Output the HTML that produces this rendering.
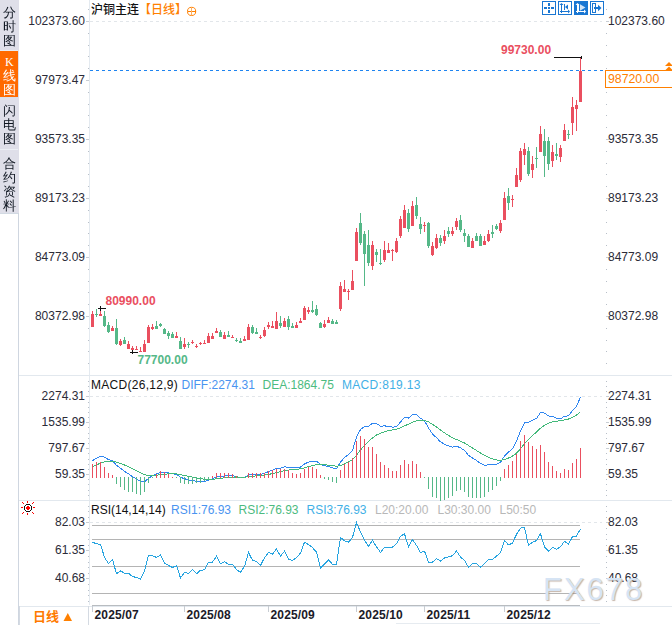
<!DOCTYPE html>
<html><head><meta charset="utf-8"><title>沪铜主连 日线</title><style>
*{margin:0;padding:0;box-sizing:border-box}
html,body{width:672px;height:625px;overflow:hidden;background:#fff}
body{position:relative;font-family:"Liberation Sans",Arial,sans-serif}
.t{position:absolute;white-space:nowrap;line-height:14px;font-size:12px;color:#2a2a35}
.num{font-size:12px;color:#2b2b38}
.tab{font-family:"Liberation Sans","WenQuanYi Zen Hei","Noto Sans CJK SC",sans-serif;font-size:13px;line-height:14px;color:#0e1520}
.tab.w{color:#fff}
.tabk{font-family:"Liberation Serif",serif;font-size:12px;color:#fff}
.cn{font-family:"Liberation Sans","Noto Sans CJK SC",sans-serif}
.hdr{font-size:12px;color:#111;line-height:16px;font-weight:500}
.leg{font-size:12px}
.date{font-size:12px;font-weight:bold;color:#1a1a28;letter-spacing:0.15px}
.bl{font-size:13px;font-weight:bold;color:#ff7a00;line-height:16px}
.wm{font-size:31px;letter-spacing:2px;color:#d6e4f4;line-height:36px;text-shadow:1px 1px 1px rgba(150,120,100,.55)}
</style></head>
<body>
<svg width="672" height="625" viewBox="0 0 672 625" style="position:absolute;left:0;top:0" shape-rendering="crispEdges"><rect x="0" y="0" width="19" height="213" fill="#dfdfe9"/><rect x="0" y="51" width="18" height="46" fill="#ff6a00"/><rect x="0" y="50" width="18" height="1" fill="#e8ecf4"/><rect x="0" y="149" width="18" height="1" fill="#eceff5"/><rect x="18" y="213" width="1" height="412" fill="#cfd6e0"/><rect x="0" y="213" width="18" height="1" fill="#d2dae3"/><rect x="89" y="0" width="1" height="605" fill="#e4eaf0"/><rect x="19" y="375" width="653" height="1" fill="#e2e8ee"/><rect x="19" y="500" width="653" height="1" fill="#e2e8ee"/><rect x="19" y="606" width="653" height="1" fill="#e2e8ee"/><rect x="19" y="606" width="1" height="19" fill="#d4dae2"/><rect x="88" y="606" width="1" height="19" fill="#d4dae2"/><rect x="396" y="623" width="204" height="1" fill="#e6ebf0"/><rect x="92" y="605" width="488" height="1" fill="#b8bcc0"/><rect x="86" y="21" width="3" height="1" fill="#c8cdd3"/><rect x="606" y="21" width="3" height="1" fill="#c8cdd3"/><rect x="86" y="80" width="3" height="1" fill="#c8cdd3"/><rect x="606" y="80" width="3" height="1" fill="#c8cdd3"/><rect x="86" y="139" width="3" height="1" fill="#c8cdd3"/><rect x="606" y="139" width="3" height="1" fill="#c8cdd3"/><rect x="86" y="198" width="3" height="1" fill="#c8cdd3"/><rect x="606" y="198" width="3" height="1" fill="#c8cdd3"/><rect x="86" y="257" width="3" height="1" fill="#c8cdd3"/><rect x="606" y="257" width="3" height="1" fill="#c8cdd3"/><rect x="86" y="316" width="3" height="1" fill="#c8cdd3"/><rect x="606" y="316" width="3" height="1" fill="#c8cdd3"/><rect x="88" y="33" width="1" height="1" fill="#b8bfc8"/><rect x="606" y="33" width="1" height="1" fill="#b8bfc8"/><rect x="88" y="45" width="1" height="1" fill="#b8bfc8"/><rect x="606" y="45" width="1" height="1" fill="#b8bfc8"/><rect x="88" y="56" width="1" height="1" fill="#b8bfc8"/><rect x="606" y="56" width="1" height="1" fill="#b8bfc8"/><rect x="88" y="68" width="1" height="1" fill="#b8bfc8"/><rect x="606" y="68" width="1" height="1" fill="#b8bfc8"/><rect x="88" y="92" width="1" height="1" fill="#b8bfc8"/><rect x="606" y="92" width="1" height="1" fill="#b8bfc8"/><rect x="88" y="104" width="1" height="1" fill="#b8bfc8"/><rect x="606" y="104" width="1" height="1" fill="#b8bfc8"/><rect x="88" y="115" width="1" height="1" fill="#b8bfc8"/><rect x="606" y="115" width="1" height="1" fill="#b8bfc8"/><rect x="88" y="127" width="1" height="1" fill="#b8bfc8"/><rect x="606" y="127" width="1" height="1" fill="#b8bfc8"/><rect x="88" y="151" width="1" height="1" fill="#b8bfc8"/><rect x="606" y="151" width="1" height="1" fill="#b8bfc8"/><rect x="88" y="163" width="1" height="1" fill="#b8bfc8"/><rect x="606" y="163" width="1" height="1" fill="#b8bfc8"/><rect x="88" y="174" width="1" height="1" fill="#b8bfc8"/><rect x="606" y="174" width="1" height="1" fill="#b8bfc8"/><rect x="88" y="186" width="1" height="1" fill="#b8bfc8"/><rect x="606" y="186" width="1" height="1" fill="#b8bfc8"/><rect x="88" y="210" width="1" height="1" fill="#b8bfc8"/><rect x="606" y="210" width="1" height="1" fill="#b8bfc8"/><rect x="88" y="222" width="1" height="1" fill="#b8bfc8"/><rect x="606" y="222" width="1" height="1" fill="#b8bfc8"/><rect x="88" y="233" width="1" height="1" fill="#b8bfc8"/><rect x="606" y="233" width="1" height="1" fill="#b8bfc8"/><rect x="88" y="245" width="1" height="1" fill="#b8bfc8"/><rect x="606" y="245" width="1" height="1" fill="#b8bfc8"/><rect x="88" y="269" width="1" height="1" fill="#b8bfc8"/><rect x="606" y="269" width="1" height="1" fill="#b8bfc8"/><rect x="88" y="281" width="1" height="1" fill="#b8bfc8"/><rect x="606" y="281" width="1" height="1" fill="#b8bfc8"/><rect x="88" y="292" width="1" height="1" fill="#b8bfc8"/><rect x="606" y="292" width="1" height="1" fill="#b8bfc8"/><rect x="88" y="304" width="1" height="1" fill="#b8bfc8"/><rect x="606" y="304" width="1" height="1" fill="#b8bfc8"/><rect x="88" y="328" width="1" height="1" fill="#b8bfc8"/><rect x="606" y="328" width="1" height="1" fill="#b8bfc8"/><rect x="88" y="340" width="1" height="1" fill="#b8bfc8"/><rect x="606" y="340" width="1" height="1" fill="#b8bfc8"/><rect x="88" y="351" width="1" height="1" fill="#b8bfc8"/><rect x="606" y="351" width="1" height="1" fill="#b8bfc8"/><rect x="88" y="363" width="1" height="1" fill="#b8bfc8"/><rect x="606" y="363" width="1" height="1" fill="#b8bfc8"/><rect x="88" y="9" width="1" height="1" fill="#b8bfc8"/><rect x="606" y="9" width="1" height="1" fill="#b8bfc8"/><line x1="90" y1="21.5" x2="602" y2="21.5" stroke="#e2e6ea" stroke-width="1" stroke-dasharray="3,3"/><line x1="90" y1="70.5" x2="603" y2="70.5" stroke="#1e84f0" stroke-width="1" stroke-dasharray="3,3"/><rect x="92" y="311" width="1" height="16" fill="#ea4f5f"/><rect x="91" y="314" width="3" height="13" fill="#ea4f5f"/><rect x="96" y="309" width="1" height="8" fill="#55b888"/><rect x="95" y="314" width="3" height="1" fill="#55b888"/><rect x="100" y="308" width="1" height="8" fill="#ea4f5f"/><rect x="99" y="314" width="3" height="2" fill="#ea4f5f"/><rect x="104" y="311" width="1" height="16" fill="#55b888"/><rect x="103" y="316" width="3" height="10" fill="#55b888"/><rect x="108" y="322" width="1" height="11" fill="#55b888"/><rect x="107" y="325" width="3" height="7" fill="#55b888"/><rect x="112" y="326" width="1" height="5" fill="#ea4f5f"/><rect x="111" y="328" width="3" height="3" fill="#ea4f5f"/><rect x="116" y="319" width="1" height="26" fill="#55b888"/><rect x="115" y="328" width="3" height="16" fill="#55b888"/><rect x="120" y="339" width="1" height="7" fill="#ea4f5f"/><rect x="119" y="341" width="3" height="4" fill="#ea4f5f"/><rect x="124" y="337" width="1" height="7" fill="#55b888"/><rect x="123" y="340" width="3" height="4" fill="#55b888"/><rect x="128" y="341" width="1" height="8" fill="#ea4f5f"/><rect x="127" y="344" width="3" height="5" fill="#ea4f5f"/><rect x="132" y="346" width="1" height="6" fill="#ea4f5f"/><rect x="131" y="348" width="3" height="2" fill="#ea4f5f"/><rect x="136" y="346" width="1" height="4" fill="#ea4f5f"/><rect x="135" y="349" width="3" height="1" fill="#ea4f5f"/><rect x="140" y="347" width="1" height="5" fill="#ea4f5f"/><rect x="139" y="351" width="3" height="1" fill="#ea4f5f"/><rect x="144" y="340" width="1" height="12" fill="#ea4f5f"/><rect x="143" y="344" width="3" height="8" fill="#ea4f5f"/><rect x="148" y="325" width="1" height="18" fill="#ea4f5f"/><rect x="147" y="327" width="3" height="16" fill="#ea4f5f"/><rect x="152" y="324" width="1" height="6" fill="#ea4f5f"/><rect x="151" y="327" width="3" height="2" fill="#ea4f5f"/><rect x="156" y="321" width="1" height="8" fill="#55b888"/><rect x="155" y="326" width="3" height="3" fill="#55b888"/><rect x="160" y="323" width="1" height="4" fill="#55b888"/><rect x="159" y="324" width="3" height="2" fill="#55b888"/><rect x="164" y="328" width="1" height="6" fill="#55b888"/><rect x="163" y="329" width="3" height="5" fill="#55b888"/><rect x="168" y="331" width="1" height="8" fill="#55b888"/><rect x="167" y="333" width="3" height="3" fill="#55b888"/><rect x="172" y="332" width="1" height="6" fill="#55b888"/><rect x="171" y="334" width="3" height="4" fill="#55b888"/><rect x="176" y="332" width="1" height="6" fill="#ea4f5f"/><rect x="175" y="336" width="3" height="2" fill="#ea4f5f"/><rect x="180" y="337" width="1" height="12" fill="#55b888"/><rect x="179" y="341" width="3" height="8" fill="#55b888"/><rect x="184" y="338" width="1" height="11" fill="#ea4f5f"/><rect x="183" y="344" width="3" height="3" fill="#ea4f5f"/><rect x="188" y="342" width="1" height="6" fill="#55b888"/><rect x="187" y="344" width="3" height="1" fill="#55b888"/><rect x="192" y="340" width="1" height="4" fill="#ea4f5f"/><rect x="191" y="342" width="3" height="1" fill="#ea4f5f"/><rect x="196" y="344" width="1" height="4" fill="#ea4f5f"/><rect x="195" y="346" width="3" height="1" fill="#ea4f5f"/><rect x="200" y="342" width="1" height="3" fill="#ea4f5f"/><rect x="199" y="343" width="3" height="1" fill="#ea4f5f"/><rect x="204" y="340" width="1" height="4" fill="#ea4f5f"/><rect x="203" y="343" width="3" height="1" fill="#ea4f5f"/><rect x="208" y="333" width="1" height="10" fill="#ea4f5f"/><rect x="207" y="336" width="3" height="7" fill="#ea4f5f"/><rect x="212" y="333" width="1" height="6" fill="#ea4f5f"/><rect x="211" y="336" width="3" height="3" fill="#ea4f5f"/><rect x="216" y="328" width="1" height="5" fill="#ea4f5f"/><rect x="215" y="331" width="3" height="2" fill="#ea4f5f"/><rect x="220" y="330" width="1" height="7" fill="#55b888"/><rect x="219" y="332" width="3" height="5" fill="#55b888"/><rect x="224" y="332" width="1" height="7" fill="#ea4f5f"/><rect x="223" y="335" width="3" height="4" fill="#ea4f5f"/><rect x="228" y="331" width="1" height="6" fill="#55b888"/><rect x="227" y="335" width="3" height="2" fill="#55b888"/><rect x="232" y="335" width="1" height="3" fill="#ea4f5f"/><rect x="231" y="337" width="3" height="1" fill="#ea4f5f"/><rect x="236" y="338" width="1" height="4" fill="#55b888"/><rect x="235" y="340" width="3" height="1" fill="#55b888"/><rect x="240" y="338" width="1" height="5" fill="#55b888"/><rect x="239" y="341" width="3" height="2" fill="#55b888"/><rect x="244" y="336" width="1" height="5" fill="#ea4f5f"/><rect x="243" y="339" width="3" height="2" fill="#ea4f5f"/><rect x="248" y="324" width="1" height="16" fill="#ea4f5f"/><rect x="247" y="327" width="3" height="13" fill="#ea4f5f"/><rect x="252" y="325" width="1" height="9" fill="#55b888"/><rect x="251" y="327" width="3" height="6" fill="#55b888"/><rect x="256" y="328" width="1" height="6" fill="#55b888"/><rect x="255" y="332" width="3" height="2" fill="#55b888"/><rect x="260" y="335" width="1" height="4" fill="#ea4f5f"/><rect x="259" y="337" width="3" height="1" fill="#ea4f5f"/><rect x="264" y="327" width="1" height="10" fill="#ea4f5f"/><rect x="263" y="330" width="3" height="6" fill="#ea4f5f"/><rect x="268" y="322" width="1" height="7" fill="#ea4f5f"/><rect x="267" y="325" width="3" height="2" fill="#ea4f5f"/><rect x="272" y="321" width="1" height="7" fill="#ea4f5f"/><rect x="271" y="326" width="3" height="2" fill="#ea4f5f"/><rect x="276" y="312" width="1" height="17" fill="#ea4f5f"/><rect x="275" y="321" width="3" height="8" fill="#ea4f5f"/><rect x="280" y="316" width="1" height="12" fill="#55b888"/><rect x="279" y="323" width="3" height="3" fill="#55b888"/><rect x="284" y="318" width="1" height="9" fill="#ea4f5f"/><rect x="283" y="321" width="3" height="6" fill="#ea4f5f"/><rect x="288" y="316" width="1" height="14" fill="#55b888"/><rect x="287" y="319" width="3" height="8" fill="#55b888"/><rect x="292" y="323" width="1" height="5" fill="#55b888"/><rect x="291" y="326" width="3" height="2" fill="#55b888"/><rect x="296" y="322" width="1" height="6" fill="#ea4f5f"/><rect x="295" y="325" width="3" height="3" fill="#ea4f5f"/><rect x="300" y="318" width="1" height="5" fill="#ea4f5f"/><rect x="299" y="321" width="3" height="2" fill="#ea4f5f"/><rect x="304" y="306" width="1" height="14" fill="#ea4f5f"/><rect x="303" y="308" width="3" height="12" fill="#ea4f5f"/><rect x="308" y="307" width="1" height="7" fill="#ea4f5f"/><rect x="307" y="310" width="3" height="2" fill="#ea4f5f"/><rect x="312" y="301" width="1" height="12" fill="#55b888"/><rect x="311" y="310" width="3" height="2" fill="#55b888"/><rect x="316" y="305" width="1" height="11" fill="#55b888"/><rect x="315" y="309" width="3" height="6" fill="#55b888"/><rect x="320" y="322" width="1" height="6" fill="#55b888"/><rect x="319" y="323" width="3" height="5" fill="#55b888"/><rect x="324" y="320" width="1" height="8" fill="#ea4f5f"/><rect x="323" y="324" width="3" height="3" fill="#ea4f5f"/><rect x="328" y="317" width="1" height="6" fill="#ea4f5f"/><rect x="327" y="320" width="3" height="3" fill="#ea4f5f"/><rect x="332" y="319" width="1" height="5" fill="#55b888"/><rect x="331" y="321" width="3" height="3" fill="#55b888"/><rect x="336" y="320" width="1" height="4" fill="#55b888"/><rect x="335" y="322" width="3" height="2" fill="#55b888"/><rect x="340" y="282" width="1" height="29" fill="#ea4f5f"/><rect x="339" y="286" width="3" height="23" fill="#ea4f5f"/><rect x="344" y="280" width="1" height="12" fill="#ea4f5f"/><rect x="343" y="289" width="3" height="3" fill="#ea4f5f"/><rect x="348" y="289" width="1" height="11" fill="#ea4f5f"/><rect x="347" y="291" width="3" height="1" fill="#ea4f5f"/><rect x="352" y="270" width="1" height="20" fill="#ea4f5f"/><rect x="351" y="281" width="3" height="9" fill="#ea4f5f"/><rect x="356" y="228" width="1" height="33" fill="#ea4f5f"/><rect x="355" y="232" width="3" height="29" fill="#ea4f5f"/><rect x="360" y="213" width="1" height="32" fill="#55b888"/><rect x="359" y="223" width="3" height="20" fill="#55b888"/><rect x="364" y="231" width="1" height="55" fill="#55b888"/><rect x="363" y="234" width="3" height="20" fill="#55b888"/><rect x="368" y="230" width="1" height="36" fill="#55b888"/><rect x="367" y="245" width="3" height="18" fill="#55b888"/><rect x="372" y="241" width="1" height="29" fill="#ea4f5f"/><rect x="371" y="245" width="3" height="21" fill="#ea4f5f"/><rect x="376" y="249" width="1" height="13" fill="#55b888"/><rect x="375" y="252" width="3" height="3" fill="#55b888"/><rect x="380" y="249" width="1" height="16" fill="#55b888"/><rect x="379" y="263" width="3" height="1" fill="#55b888"/><rect x="384" y="241" width="1" height="21" fill="#ea4f5f"/><rect x="383" y="250" width="3" height="10" fill="#ea4f5f"/><rect x="388" y="243" width="1" height="10" fill="#ea4f5f"/><rect x="387" y="250" width="3" height="3" fill="#ea4f5f"/><rect x="392" y="249" width="1" height="12" fill="#ea4f5f"/><rect x="391" y="250" width="3" height="1" fill="#ea4f5f"/><rect x="396" y="238" width="1" height="15" fill="#ea4f5f"/><rect x="395" y="241" width="3" height="11" fill="#ea4f5f"/><rect x="400" y="216" width="1" height="22" fill="#ea4f5f"/><rect x="399" y="219" width="3" height="17" fill="#ea4f5f"/><rect x="404" y="205" width="1" height="23" fill="#ea4f5f"/><rect x="403" y="210" width="3" height="18" fill="#ea4f5f"/><rect x="408" y="209" width="1" height="23" fill="#55b888"/><rect x="407" y="213" width="3" height="16" fill="#55b888"/><rect x="412" y="201" width="1" height="25" fill="#ea4f5f"/><rect x="411" y="206" width="3" height="20" fill="#ea4f5f"/><rect x="416" y="197" width="1" height="22" fill="#55b888"/><rect x="415" y="205" width="3" height="11" fill="#55b888"/><rect x="420" y="217" width="1" height="17" fill="#55b888"/><rect x="419" y="224" width="3" height="5" fill="#55b888"/><rect x="424" y="222" width="1" height="10" fill="#ea4f5f"/><rect x="423" y="225" width="3" height="1" fill="#ea4f5f"/><rect x="428" y="222" width="1" height="26" fill="#55b888"/><rect x="427" y="223" width="3" height="23" fill="#55b888"/><rect x="432" y="242" width="1" height="14" fill="#ea4f5f"/><rect x="431" y="246" width="3" height="9" fill="#ea4f5f"/><rect x="436" y="234" width="1" height="15" fill="#ea4f5f"/><rect x="435" y="238" width="3" height="10" fill="#ea4f5f"/><rect x="440" y="235" width="1" height="11" fill="#55b888"/><rect x="439" y="238" width="3" height="5" fill="#55b888"/><rect x="444" y="230" width="1" height="14" fill="#ea4f5f"/><rect x="443" y="236" width="3" height="5" fill="#ea4f5f"/><rect x="448" y="227" width="1" height="10" fill="#55b888"/><rect x="447" y="231" width="3" height="3" fill="#55b888"/><rect x="452" y="227" width="1" height="9" fill="#ea4f5f"/><rect x="451" y="231" width="3" height="3" fill="#ea4f5f"/><rect x="456" y="218" width="1" height="12" fill="#ea4f5f"/><rect x="455" y="221" width="3" height="6" fill="#ea4f5f"/><rect x="460" y="215" width="1" height="17" fill="#55b888"/><rect x="459" y="220" width="3" height="10" fill="#55b888"/><rect x="464" y="229" width="1" height="13" fill="#55b888"/><rect x="463" y="233" width="3" height="3" fill="#55b888"/><rect x="468" y="234" width="1" height="13" fill="#55b888"/><rect x="467" y="236" width="3" height="11" fill="#55b888"/><rect x="472" y="238" width="1" height="10" fill="#ea4f5f"/><rect x="471" y="241" width="3" height="7" fill="#ea4f5f"/><rect x="476" y="233" width="1" height="8" fill="#55b888"/><rect x="475" y="236" width="3" height="5" fill="#55b888"/><rect x="480" y="234" width="1" height="12" fill="#55b888"/><rect x="479" y="236" width="3" height="10" fill="#55b888"/><rect x="484" y="236" width="1" height="9" fill="#ea4f5f"/><rect x="483" y="241" width="3" height="4" fill="#ea4f5f"/><rect x="488" y="230" width="1" height="12" fill="#ea4f5f"/><rect x="487" y="234" width="3" height="7" fill="#ea4f5f"/><rect x="492" y="225" width="1" height="13" fill="#55b888"/><rect x="491" y="232" width="3" height="2" fill="#55b888"/><rect x="496" y="224" width="1" height="6" fill="#55b888"/><rect x="495" y="226" width="3" height="3" fill="#55b888"/><rect x="500" y="220" width="1" height="13" fill="#ea4f5f"/><rect x="499" y="223" width="3" height="8" fill="#ea4f5f"/><rect x="504" y="192" width="1" height="28" fill="#ea4f5f"/><rect x="503" y="198" width="3" height="22" fill="#ea4f5f"/><rect x="508" y="188" width="1" height="22" fill="#55b888"/><rect x="507" y="196" width="3" height="7" fill="#55b888"/><rect x="512" y="195" width="1" height="12" fill="#ea4f5f"/><rect x="511" y="199" width="3" height="1" fill="#ea4f5f"/><rect x="516" y="168" width="1" height="19" fill="#ea4f5f"/><rect x="515" y="175" width="3" height="12" fill="#ea4f5f"/><rect x="520" y="148" width="1" height="34" fill="#ea4f5f"/><rect x="519" y="151" width="3" height="29" fill="#ea4f5f"/><rect x="524" y="143" width="1" height="22" fill="#ea4f5f"/><rect x="523" y="149" width="3" height="6" fill="#ea4f5f"/><rect x="528" y="147" width="1" height="29" fill="#55b888"/><rect x="527" y="151" width="3" height="23" fill="#55b888"/><rect x="532" y="156" width="1" height="22" fill="#ea4f5f"/><rect x="531" y="164" width="3" height="6" fill="#ea4f5f"/><rect x="536" y="147" width="1" height="21" fill="#55b888"/><rect x="535" y="158" width="3" height="1" fill="#55b888"/><rect x="540" y="126" width="1" height="26" fill="#ea4f5f"/><rect x="539" y="134" width="3" height="18" fill="#ea4f5f"/><rect x="544" y="129" width="1" height="48" fill="#55b888"/><rect x="543" y="141" width="3" height="15" fill="#55b888"/><rect x="548" y="137" width="1" height="33" fill="#55b888"/><rect x="547" y="141" width="3" height="23" fill="#55b888"/><rect x="552" y="145" width="1" height="22" fill="#ea4f5f"/><rect x="551" y="152" width="3" height="9" fill="#ea4f5f"/><rect x="556" y="143" width="1" height="17" fill="#55b888"/><rect x="555" y="154" width="3" height="2" fill="#55b888"/><rect x="560" y="145" width="1" height="17" fill="#ea4f5f"/><rect x="559" y="148" width="3" height="9" fill="#ea4f5f"/><rect x="564" y="124" width="1" height="17" fill="#ea4f5f"/><rect x="563" y="130" width="3" height="11" fill="#ea4f5f"/><rect x="568" y="130" width="1" height="9" fill="#55b888"/><rect x="567" y="134" width="3" height="1" fill="#55b888"/><rect x="572" y="97" width="1" height="38" fill="#ea4f5f"/><rect x="571" y="107" width="3" height="16" fill="#ea4f5f"/><rect x="576" y="100" width="1" height="31" fill="#ea4f5f"/><rect x="575" y="105" width="3" height="4" fill="#ea4f5f"/><rect x="580" y="57" width="1" height="45" fill="#ea4f5f"/><rect x="579" y="71" width="3" height="31" fill="#ea4f5f"/><rect x="98" y="308" width="8" height="1" fill="#111"/><rect x="100" y="306" width="1" height="5" fill="#111"/><rect x="130" y="352" width="8" height="1" fill="#111"/><rect x="132" y="350" width="1" height="4" fill="#111"/><rect x="554" y="57" width="28" height="1" fill="#111"/><rect x="581" y="56" width="1" height="3" fill="#111"/><rect x="605.5" y="70.5" width="70" height="16.5" fill="#fff" stroke="#ff8000" stroke-width="1"/><polygon shape-rendering="geometricPrecision" points="665,66 669,62 673,66" fill="#ff8000"/><polygon shape-rendering="geometricPrecision" points="665,70.5 669,66.5 673,70.5" fill="#ff8000"/><rect x="86" y="396" width="3" height="1" fill="#c8cdd3"/><rect x="606" y="396" width="3" height="1" fill="#c8cdd3"/><rect x="86" y="422" width="3" height="1" fill="#c8cdd3"/><rect x="606" y="422" width="3" height="1" fill="#c8cdd3"/><rect x="86" y="448" width="3" height="1" fill="#c8cdd3"/><rect x="606" y="448" width="3" height="1" fill="#c8cdd3"/><rect x="86" y="474" width="3" height="1" fill="#c8cdd3"/><rect x="606" y="474" width="3" height="1" fill="#c8cdd3"/><rect x="88" y="381" width="1" height="1" fill="#b8bfc8"/><rect x="606" y="381" width="1" height="1" fill="#b8bfc8"/><rect x="88" y="386" width="1" height="1" fill="#b8bfc8"/><rect x="606" y="386" width="1" height="1" fill="#b8bfc8"/><rect x="88" y="391" width="1" height="1" fill="#b8bfc8"/><rect x="606" y="391" width="1" height="1" fill="#b8bfc8"/><rect x="88" y="402" width="1" height="1" fill="#b8bfc8"/><rect x="606" y="402" width="1" height="1" fill="#b8bfc8"/><rect x="88" y="407" width="1" height="1" fill="#b8bfc8"/><rect x="606" y="407" width="1" height="1" fill="#b8bfc8"/><rect x="88" y="412" width="1" height="1" fill="#b8bfc8"/><rect x="606" y="412" width="1" height="1" fill="#b8bfc8"/><rect x="88" y="417" width="1" height="1" fill="#b8bfc8"/><rect x="606" y="417" width="1" height="1" fill="#b8bfc8"/><rect x="88" y="427" width="1" height="1" fill="#b8bfc8"/><rect x="606" y="427" width="1" height="1" fill="#b8bfc8"/><rect x="88" y="433" width="1" height="1" fill="#b8bfc8"/><rect x="606" y="433" width="1" height="1" fill="#b8bfc8"/><rect x="88" y="438" width="1" height="1" fill="#b8bfc8"/><rect x="606" y="438" width="1" height="1" fill="#b8bfc8"/><rect x="88" y="443" width="1" height="1" fill="#b8bfc8"/><rect x="606" y="443" width="1" height="1" fill="#b8bfc8"/><rect x="88" y="453" width="1" height="1" fill="#b8bfc8"/><rect x="606" y="453" width="1" height="1" fill="#b8bfc8"/><rect x="88" y="459" width="1" height="1" fill="#b8bfc8"/><rect x="606" y="459" width="1" height="1" fill="#b8bfc8"/><rect x="88" y="464" width="1" height="1" fill="#b8bfc8"/><rect x="606" y="464" width="1" height="1" fill="#b8bfc8"/><rect x="88" y="469" width="1" height="1" fill="#b8bfc8"/><rect x="606" y="469" width="1" height="1" fill="#b8bfc8"/><rect x="88" y="479" width="1" height="1" fill="#b8bfc8"/><rect x="606" y="479" width="1" height="1" fill="#b8bfc8"/><rect x="88" y="484" width="1" height="1" fill="#b8bfc8"/><rect x="606" y="484" width="1" height="1" fill="#b8bfc8"/><rect x="88" y="490" width="1" height="1" fill="#b8bfc8"/><rect x="606" y="490" width="1" height="1" fill="#b8bfc8"/><rect x="88" y="495" width="1" height="1" fill="#b8bfc8"/><rect x="606" y="495" width="1" height="1" fill="#b8bfc8"/><line x1="90" y1="396.5" x2="602" y2="396.5" stroke="#e2e6ea" stroke-width="1" stroke-dasharray="3,3"/><polyline points="92.5,460.70 96.5,458.09 100.5,456.10 104.5,457.24 108.5,459.61 112.5,460.75 116.5,465.26 120.5,468.29 124.5,471.34 128.5,473.85 132.5,476.68 136.5,479.12 140.5,481.40 144.5,481.74 148.5,478.36 152.5,475.77 156.5,474.06 160.5,472.16 164.5,472.32 168.5,472.93 172.5,473.86 176.5,474.28 180.5,477.32 184.5,478.70 188.5,479.97 192.5,480.26 196.5,481.30 200.5,481.47 204.5,481.48 208.5,480.05 212.5,478.88 216.5,476.89 220.5,476.53 224.5,475.91 228.5,475.79 232.5,475.70 236.5,476.51 240.5,477.55 244.5,477.56 248.5,475.07 252.5,474.36 256.5,474.04 260.5,474.45 264.5,473.40 268.5,471.55 272.5,470.38 276.5,468.47 280.5,468.07 284.5,466.86 288.5,467.23 292.5,467.83 296.5,467.86 300.5,467.13 304.5,464.01 308.5,462.05 312.5,461.11 316.5,461.20 320.5,464.14 324.5,465.80 328.5,466.37 332.5,467.76 336.5,468.95 340.5,462.09 344.5,457.54 348.5,454.49 352.5,450.30 356.5,437.13 360.5,429.55 364.5,426.38 368.5,426.38 372.5,423.27 376.5,423.46 380.5,426.16 384.5,425.91 388.5,426.29 392.5,427.17 396.5,426.55 400.5,422.08 404.5,417.32 408.5,418.14 412.5,414.73 416.5,414.80 420.5,418.25 424.5,420.82 428.5,427.91 432.5,434.03 436.5,437.67 440.5,441.90 444.5,444.22 448.5,445.93 452.5,447.10 456.5,446.25 460.5,447.81 464.5,450.52 468.5,455.28 472.5,458.05 476.5,460.39 480.5,463.50 484.5,465.07 488.5,464.97 492.5,464.99 496.5,464.07 500.5,462.33 504.5,455.87 508.5,452.12 512.5,448.62 516.5,441.23 520.5,430.80 524.5,422.79 528.5,422.25 532.5,420.41 536.5,418.46 540.5,412.48 544.5,413.05 548.5,415.91 552.5,416.45 556.5,418.27 560.5,418.84 564.5,416.19 568.5,415.83 572.5,410.39 576.5,406.49 580.5,397.10" fill="none" stroke="#2f86f0" stroke-width="1"/><polyline points="92.5,466.59 96.5,464.89 100.5,463.13 104.5,461.96 108.5,461.49 112.5,461.34 116.5,462.12 120.5,463.36 124.5,464.95 128.5,466.73 132.5,468.72 136.5,470.80 140.5,472.92 144.5,474.69 148.5,475.42 152.5,475.49 156.5,475.20 160.5,474.60 164.5,474.14 168.5,473.90 172.5,473.89 176.5,473.97 180.5,474.64 184.5,475.45 188.5,476.35 192.5,477.14 196.5,477.97 200.5,478.67 204.5,479.23 208.5,479.39 212.5,479.29 216.5,478.81 220.5,478.36 224.5,477.87 228.5,477.45 232.5,477.10 236.5,476.98 240.5,477.10 244.5,477.19 248.5,476.76 252.5,476.28 256.5,475.84 260.5,475.56 264.5,475.13 268.5,474.41 272.5,473.61 276.5,472.58 280.5,471.68 284.5,470.71 288.5,470.02 292.5,469.58 296.5,469.23 300.5,468.81 304.5,467.85 308.5,466.69 312.5,465.58 316.5,464.70 320.5,464.59 324.5,464.83 328.5,465.14 332.5,465.66 336.5,466.32 340.5,465.47 344.5,463.89 348.5,462.01 352.5,459.67 356.5,455.16 360.5,450.04 364.5,445.31 368.5,441.52 372.5,437.87 376.5,434.99 380.5,433.22 384.5,431.76 388.5,430.67 392.5,429.97 396.5,429.28 400.5,427.84 404.5,425.74 408.5,424.22 412.5,422.32 416.5,420.82 420.5,420.31 424.5,420.41 428.5,421.91 432.5,424.33 436.5,427.00 440.5,429.98 444.5,432.83 448.5,435.45 452.5,437.78 456.5,439.48 460.5,441.14 464.5,443.02 468.5,445.47 472.5,447.99 476.5,450.47 480.5,453.08 484.5,455.47 488.5,457.37 492.5,458.90 496.5,459.93 500.5,460.41 504.5,459.51 508.5,458.03 512.5,456.15 516.5,453.16 520.5,448.69 524.5,443.51 528.5,439.26 532.5,435.49 536.5,432.08 540.5,428.16 544.5,425.14 548.5,423.29 552.5,421.92 556.5,421.19 560.5,420.72 564.5,419.81 568.5,419.02 572.5,417.29 576.5,415.13 580.5,411.52" fill="none" stroke="#42b97a" stroke-width="1"/><rect x="92" y="464" width="1" height="14" fill="#ea4f5f"/><rect x="96" y="462" width="1" height="16" fill="#ea4f5f"/><rect x="100" y="462" width="1" height="16" fill="#ea4f5f"/><rect x="104" y="467" width="1" height="11" fill="#ea4f5f"/><rect x="108" y="473" width="1" height="5" fill="#ea4f5f"/><rect x="112" y="475" width="1" height="3" fill="#ea4f5f"/><rect x="116" y="477" width="1" height="7" fill="#55b888"/><rect x="120" y="477" width="1" height="10" fill="#55b888"/><rect x="124" y="477" width="1" height="13" fill="#55b888"/><rect x="128" y="477" width="1" height="15" fill="#55b888"/><rect x="132" y="477" width="1" height="15" fill="#55b888"/><rect x="136" y="477" width="1" height="17" fill="#55b888"/><rect x="140" y="477" width="1" height="18" fill="#55b888"/><rect x="144" y="477" width="1" height="15" fill="#55b888"/><rect x="148" y="477" width="1" height="6" fill="#55b888"/><rect x="152" y="477" width="1" height="1" fill="#55b888"/><rect x="156" y="474" width="1" height="4" fill="#ea4f5f"/><rect x="160" y="471" width="1" height="7" fill="#ea4f5f"/><rect x="164" y="472" width="1" height="6" fill="#ea4f5f"/><rect x="168" y="474" width="1" height="4" fill="#ea4f5f"/><rect x="172" y="477" width="1" height="1" fill="#ea4f5f"/><rect x="176" y="477" width="1" height="1" fill="#55b888"/><rect x="180" y="477" width="1" height="6" fill="#55b888"/><rect x="184" y="477" width="1" height="7" fill="#55b888"/><rect x="188" y="477" width="1" height="7" fill="#55b888"/><rect x="192" y="477" width="1" height="7" fill="#55b888"/><rect x="196" y="477" width="1" height="6" fill="#55b888"/><rect x="200" y="477" width="1" height="6" fill="#55b888"/><rect x="204" y="477" width="1" height="4" fill="#55b888"/><rect x="208" y="477" width="1" height="3" fill="#55b888"/><rect x="212" y="476" width="1" height="2" fill="#ea4f5f"/><rect x="216" y="473" width="1" height="5" fill="#ea4f5f"/><rect x="220" y="473" width="1" height="5" fill="#ea4f5f"/><rect x="224" y="473" width="1" height="5" fill="#ea4f5f"/><rect x="228" y="473" width="1" height="5" fill="#ea4f5f"/><rect x="232" y="474" width="1" height="4" fill="#ea4f5f"/><rect x="236" y="476" width="1" height="2" fill="#ea4f5f"/><rect x="240" y="477" width="1" height="1" fill="#55b888"/><rect x="244" y="477" width="1" height="1" fill="#55b888"/><rect x="248" y="473" width="1" height="5" fill="#ea4f5f"/><rect x="252" y="473" width="1" height="5" fill="#ea4f5f"/><rect x="256" y="473" width="1" height="5" fill="#ea4f5f"/><rect x="260" y="473" width="1" height="5" fill="#ea4f5f"/><rect x="264" y="473" width="1" height="5" fill="#ea4f5f"/><rect x="268" y="471" width="1" height="7" fill="#ea4f5f"/><rect x="272" y="470" width="1" height="8" fill="#ea4f5f"/><rect x="276" y="469" width="1" height="9" fill="#ea4f5f"/><rect x="280" y="469" width="1" height="9" fill="#ea4f5f"/><rect x="284" y="469" width="1" height="9" fill="#ea4f5f"/><rect x="288" y="470" width="1" height="8" fill="#ea4f5f"/><rect x="292" y="473" width="1" height="5" fill="#ea4f5f"/><rect x="296" y="474" width="1" height="4" fill="#ea4f5f"/><rect x="300" y="473" width="1" height="5" fill="#ea4f5f"/><rect x="304" y="469" width="1" height="9" fill="#ea4f5f"/><rect x="308" y="467" width="1" height="11" fill="#ea4f5f"/><rect x="312" y="467" width="1" height="11" fill="#ea4f5f"/><rect x="316" y="469" width="1" height="9" fill="#ea4f5f"/><rect x="320" y="475" width="1" height="3" fill="#ea4f5f"/><rect x="324" y="477" width="1" height="2" fill="#55b888"/><rect x="328" y="477" width="1" height="3" fill="#55b888"/><rect x="332" y="477" width="1" height="5" fill="#55b888"/><rect x="336" y="477" width="1" height="6" fill="#55b888"/><rect x="340" y="470" width="1" height="8" fill="#ea4f5f"/><rect x="344" y="464" width="1" height="14" fill="#ea4f5f"/><rect x="348" y="462" width="1" height="16" fill="#ea4f5f"/><rect x="352" y="458" width="1" height="20" fill="#ea4f5f"/><rect x="356" y="441" width="1" height="37" fill="#ea4f5f"/><rect x="360" y="436" width="1" height="42" fill="#ea4f5f"/><rect x="364" y="439" width="1" height="39" fill="#ea4f5f"/><rect x="368" y="447" width="1" height="31" fill="#ea4f5f"/><rect x="372" y="447" width="1" height="31" fill="#ea4f5f"/><rect x="376" y="454" width="1" height="24" fill="#ea4f5f"/><rect x="380" y="462" width="1" height="16" fill="#ea4f5f"/><rect x="384" y="465" width="1" height="13" fill="#ea4f5f"/><rect x="388" y="468" width="1" height="10" fill="#ea4f5f"/><rect x="392" y="471" width="1" height="7" fill="#ea4f5f"/><rect x="396" y="471" width="1" height="7" fill="#ea4f5f"/><rect x="400" y="465" width="1" height="13" fill="#ea4f5f"/><rect x="404" y="460" width="1" height="18" fill="#ea4f5f"/><rect x="408" y="464" width="1" height="14" fill="#ea4f5f"/><rect x="412" y="461" width="1" height="17" fill="#ea4f5f"/><rect x="416" y="464" width="1" height="14" fill="#ea4f5f"/><rect x="420" y="472" width="1" height="6" fill="#ea4f5f"/><rect x="424" y="477" width="1" height="1" fill="#55b888"/><rect x="428" y="477" width="1" height="12" fill="#55b888"/><rect x="432" y="477" width="1" height="20" fill="#55b888"/><rect x="436" y="477" width="1" height="21" fill="#55b888"/><rect x="440" y="477" width="1" height="24" fill="#55b888"/><rect x="444" y="477" width="1" height="23" fill="#55b888"/><rect x="448" y="477" width="1" height="21" fill="#55b888"/><rect x="452" y="477" width="1" height="19" fill="#55b888"/><rect x="456" y="477" width="1" height="14" fill="#55b888"/><rect x="460" y="477" width="1" height="13" fill="#55b888"/><rect x="464" y="477" width="1" height="15" fill="#55b888"/><rect x="468" y="477" width="1" height="20" fill="#55b888"/><rect x="472" y="477" width="1" height="21" fill="#55b888"/><rect x="476" y="477" width="1" height="21" fill="#55b888"/><rect x="480" y="477" width="1" height="21" fill="#55b888"/><rect x="484" y="477" width="1" height="20" fill="#55b888"/><rect x="488" y="477" width="1" height="15" fill="#55b888"/><rect x="492" y="477" width="1" height="13" fill="#55b888"/><rect x="496" y="477" width="1" height="9" fill="#55b888"/><rect x="500" y="477" width="1" height="4" fill="#55b888"/><rect x="504" y="469" width="1" height="9" fill="#ea4f5f"/><rect x="508" y="465" width="1" height="13" fill="#ea4f5f"/><rect x="512" y="461" width="1" height="17" fill="#ea4f5f"/><rect x="516" y="454" width="1" height="24" fill="#ea4f5f"/><rect x="520" y="441" width="1" height="37" fill="#ea4f5f"/><rect x="524" y="435" width="1" height="43" fill="#ea4f5f"/><rect x="528" y="442" width="1" height="36" fill="#ea4f5f"/><rect x="532" y="446" width="1" height="32" fill="#ea4f5f"/><rect x="536" y="449" width="1" height="29" fill="#ea4f5f"/><rect x="540" y="445" width="1" height="33" fill="#ea4f5f"/><rect x="544" y="452" width="1" height="26" fill="#ea4f5f"/><rect x="548" y="462" width="1" height="16" fill="#ea4f5f"/><rect x="552" y="466" width="1" height="12" fill="#ea4f5f"/><rect x="556" y="471" width="1" height="7" fill="#ea4f5f"/><rect x="560" y="473" width="1" height="5" fill="#ea4f5f"/><rect x="564" y="469" width="1" height="9" fill="#ea4f5f"/><rect x="568" y="470" width="1" height="8" fill="#ea4f5f"/><rect x="572" y="463" width="1" height="15" fill="#ea4f5f"/><rect x="576" y="459" width="1" height="19" fill="#ea4f5f"/><rect x="580" y="448" width="1" height="30" fill="#ea4f5f"/><rect x="86" y="522" width="3" height="1" fill="#c8cdd3"/><rect x="606" y="522" width="3" height="1" fill="#c8cdd3"/><rect x="86" y="550" width="3" height="1" fill="#c8cdd3"/><rect x="606" y="550" width="3" height="1" fill="#c8cdd3"/><rect x="86" y="578" width="3" height="1" fill="#c8cdd3"/><rect x="606" y="578" width="3" height="1" fill="#c8cdd3"/><rect x="88" y="506" width="1" height="1" fill="#b8bfc8"/><rect x="606" y="506" width="1" height="1" fill="#b8bfc8"/><rect x="88" y="511" width="1" height="1" fill="#b8bfc8"/><rect x="606" y="511" width="1" height="1" fill="#b8bfc8"/><rect x="88" y="517" width="1" height="1" fill="#b8bfc8"/><rect x="606" y="517" width="1" height="1" fill="#b8bfc8"/><rect x="88" y="528" width="1" height="1" fill="#b8bfc8"/><rect x="606" y="528" width="1" height="1" fill="#b8bfc8"/><rect x="88" y="534" width="1" height="1" fill="#b8bfc8"/><rect x="606" y="534" width="1" height="1" fill="#b8bfc8"/><rect x="88" y="539" width="1" height="1" fill="#b8bfc8"/><rect x="606" y="539" width="1" height="1" fill="#b8bfc8"/><rect x="88" y="545" width="1" height="1" fill="#b8bfc8"/><rect x="606" y="545" width="1" height="1" fill="#b8bfc8"/><rect x="88" y="556" width="1" height="1" fill="#b8bfc8"/><rect x="606" y="556" width="1" height="1" fill="#b8bfc8"/><rect x="88" y="562" width="1" height="1" fill="#b8bfc8"/><rect x="606" y="562" width="1" height="1" fill="#b8bfc8"/><rect x="88" y="567" width="1" height="1" fill="#b8bfc8"/><rect x="606" y="567" width="1" height="1" fill="#b8bfc8"/><rect x="88" y="573" width="1" height="1" fill="#b8bfc8"/><rect x="606" y="573" width="1" height="1" fill="#b8bfc8"/><rect x="88" y="584" width="1" height="1" fill="#b8bfc8"/><rect x="606" y="584" width="1" height="1" fill="#b8bfc8"/><rect x="88" y="590" width="1" height="1" fill="#b8bfc8"/><rect x="606" y="590" width="1" height="1" fill="#b8bfc8"/><rect x="88" y="595" width="1" height="1" fill="#b8bfc8"/><rect x="606" y="595" width="1" height="1" fill="#b8bfc8"/><rect x="88" y="601" width="1" height="1" fill="#b8bfc8"/><rect x="606" y="601" width="1" height="1" fill="#b8bfc8"/><line x1="90" y1="522.5" x2="602" y2="522.5" stroke="#e2e6ea" stroke-width="1" stroke-dasharray="3,3"/><rect x="92" y="525" width="488" height="1" fill="#b4b4b4"/><rect x="92" y="539" width="488" height="1" fill="#b4b4b4"/><rect x="92" y="566" width="488" height="1" fill="#b4b4b4"/><rect x="92" y="593" width="488" height="1" fill="#b4b4b4"/><polyline points="92.5,542.10 96.5,543.90 100.5,544.30 104.5,557.48 108.5,563.46 112.5,559.64 116.5,573.68 120.5,570.95 124.5,573.07 128.5,573.31 132.5,576.60 136.5,577.43 140.5,579.04 144.5,571.05 148.5,555.41 152.5,555.82 156.5,557.36 160.5,554.94 164.5,563.30 168.5,565.46 172.5,567.44 176.5,565.66 180.5,577.94 184.5,572.50 188.5,573.42 192.5,569.70 196.5,573.77 200.5,570.26 204.5,569.89 208.5,562.00 212.5,562.00 216.5,556.35 220.5,563.89 224.5,561.92 228.5,564.15 232.5,564.15 236.5,569.72 240.5,572.18 244.5,566.50 248.5,552.44 252.5,560.33 256.5,561.63 260.5,565.53 264.5,557.74 268.5,552.59 272.5,554.04 276.5,549.02 280.5,556.06 284.5,551.28 288.5,559.24 292.5,560.42 296.5,557.48 300.5,553.07 304.5,542.17 308.5,544.56 312.5,547.59 316.5,552.21 320.5,568.00 324.5,563.94 328.5,559.78 332.5,564.26 336.5,564.26 340.5,537.43 344.5,540.76 348.5,542.30 352.5,537.38 356.5,522.71 360.5,531.83 364.5,539.98 368.5,546.37 372.5,540.35 376.5,546.71 380.5,552.47 384.5,547.15 388.5,547.15 392.5,547.15 396.5,543.60 400.5,536.36 404.5,533.84 408.5,546.54 412.5,539.58 416.5,545.42 420.5,552.63 424.5,551.21 428.5,562.11 432.5,562.11 436.5,558.66 440.5,561.05 444.5,557.98 448.5,556.92 452.5,555.72 456.5,551.04 460.5,557.00 464.5,560.48 468.5,567.09 472.5,563.77 476.5,563.66 480.5,566.98 484.5,563.81 488.5,559.46 492.5,559.33 496.5,556.10 500.5,552.68 504.5,540.57 508.5,544.86 512.5,543.10 516.5,534.38 520.5,528.03 524.5,527.63 528.5,545.48 532.5,542.27 536.5,540.53 540.5,533.79 544.5,546.85 548.5,551.20 552.5,547.41 556.5,549.32 560.5,546.82 564.5,541.22 568.5,544.23 572.5,536.52 576.5,536.06 580.5,528.87" fill="none" stroke="#27a4e0" stroke-width="1"/><rect x="26" y="504" width="4" height="1" fill="#111"/><rect x="26" y="511" width="4" height="1" fill="#111"/><rect x="24" y="506" width="1" height="4" fill="#111"/><rect x="31" y="506" width="1" height="4" fill="#111"/><rect x="25" y="505" width="1" height="1" fill="#111"/><rect x="30" y="505" width="1" height="1" fill="#111"/><rect x="25" y="510" width="1" height="1" fill="#111"/><rect x="30" y="510" width="1" height="1" fill="#111"/><rect x="27" y="506" width="2" height="1" fill="#f00"/><rect x="26" y="507" width="4" height="2" fill="#f00"/><rect x="27" y="509" width="2" height="1" fill="#f00"/><rect x="27" y="501" width="1" height="2" fill="#f00"/><rect x="27" y="513" width="1" height="2" fill="#f00"/><rect x="21" y="507" width="2" height="1" fill="#f00"/><rect x="33" y="507" width="2" height="1" fill="#f00"/><rect x="22" y="502" width="1" height="1" fill="#f00"/><rect x="23" y="503" width="1" height="1" fill="#f00"/><rect x="33" y="502" width="1" height="1" fill="#f00"/><rect x="32" y="503" width="1" height="1" fill="#f00"/><rect x="22" y="513" width="1" height="1" fill="#f00"/><rect x="23" y="512" width="1" height="1" fill="#f00"/><rect x="33" y="513" width="1" height="1" fill="#f00"/><rect x="32" y="512" width="1" height="1" fill="#f00"/><rect x="0" y="97" width="18" height="1" fill="#d8dfea"/><rect x="92" y="606" width="1" height="6" fill="#c8cdd3"/><rect x="184" y="606" width="1" height="6" fill="#c8cdd3"/><rect x="268" y="606" width="1" height="6" fill="#c8cdd3"/><rect x="356" y="606" width="1" height="6" fill="#c8cdd3"/><rect x="424" y="606" width="1" height="6" fill="#c8cdd3"/><rect x="504" y="606" width="1" height="6" fill="#c8cdd3"/><rect x="542.5" y="1.5" width="13" height="13" fill="#fff" stroke="#1976d2" stroke-width="1"/><g fill="#1976d2"><rect x="544" y="7" width="3" height="2"/><rect x="548" y="7" width="2" height="2"/><rect x="551" y="7" width="3" height="2"/><rect x="548" y="3" width="2" height="3"/><rect x="548" y="10" width="2" height="3"/></g><rect x="558.5" y="1.5" width="13" height="13" fill="#fff" stroke="#1976d2" stroke-width="1"/><g fill="#1976d2"><rect x="561" y="4" width="1" height="9"/><polygon shape-rendering="geometricPrecision" points="559.5,5 561.5,3 563.5,5"/><rect x="560" y="11" width="9" height="1"/><polygon shape-rendering="geometricPrecision" points="568,9.5 570,11.5 568,13.5"/><rect x="564" y="4" width="1" height="6"/><polygon shape-rendering="geometricPrecision" points="568,4.5 565,7 568,9.5"/></g><rect x="574" y="1" width="14" height="14" fill="#1976d2"/><g fill="#fff"><rect x="577" y="4" width="1" height="9"/><polygon shape-rendering="geometricPrecision" points="575.5,5 577.5,3 579.5,5"/><rect x="576" y="11" width="9" height="1"/><polygon shape-rendering="geometricPrecision" points="584,9.5 586,11.5 584,13.5"/><rect x="578" y="4" width="1" height="7"/></g><polygon shape-rendering="geometricPrecision" points="580,4.3 585.5,7.5 580,10.8" fill="#cfe3f6"/><rect x="590.5" y="1.5" width="13" height="13" fill="#fff" stroke="#1976d2" stroke-width="1"/><rect x="592.5" y="3.5" width="3" height="9" fill="none" stroke="#1976d2" stroke-width="1"/><g fill="#1976d2"><rect x="594" y="7" width="5" height="2"/><polygon shape-rendering="geometricPrecision" points="598,4.8 601.5,8 598,11.2"/></g><g stroke="#ff8000" stroke-width="1" fill="none"><circle shape-rendering="geometricPrecision" cx="191.6" cy="11.4" r="4.1"/></g><rect x="188" y="11" width="8" height="1" fill="#ff8000"/><rect x="191" y="8" width="1" height="7" fill="#ffb060"/><polygon shape-rendering="geometricPrecision" points="63.5,621 67.8,613 72,621" fill="#ff8000"/></svg>
<div class="t tab" style="left:3px;top:6px;">分</div><div class="t tab" style="left:3px;top:20px;">时</div><div class="t tab" style="left:3px;top:34px;">图</div><div class="t tabk" style="left:5px;top:55px;">K</div><div class="t tab w" style="left:3px;top:69px;">线</div><div class="t tab w" style="left:3px;top:83px;">图</div><div class="t tab" style="left:3px;top:104px;">闪</div><div class="t tab" style="left:3px;top:118px;">电</div><div class="t tab" style="left:3px;top:132px;">图</div><div class="t tab" style="left:3px;top:157px;">合</div><div class="t tab" style="left:3px;top:171px;">约</div><div class="t tab" style="left:3px;top:185px;">资</div><div class="t tab" style="left:3px;top:199px;">料</div><div class="t cn hdr" style="left:91px;top:2px;">沪铜主连</div><div class="t cn hdr" style="left:139px;top:2px;color:#ff8000">【日线】</div><div class="t num" style="right:587px;top:14px;">102373.60</div><div class="t num" style="left:608px;top:14px;">102373.60</div><div class="t num" style="right:587px;top:73px;">97973.47</div><div class="t num" style="right:587px;top:132px;">93573.35</div><div class="t num" style="left:608px;top:132px;">93573.35</div><div class="t num" style="right:587px;top:191px;">89173.23</div><div class="t num" style="left:608px;top:191px;">89173.23</div><div class="t num" style="right:587px;top:250px;">84773.09</div><div class="t num" style="left:608px;top:250px;">84773.09</div><div class="t num" style="right:587px;top:309px;">80372.98</div><div class="t num" style="left:608px;top:309px;">80372.98</div><div class="t num" style="right:587px;top:389.4px;">2274.31</div><div class="t num" style="left:608px;top:389.4px;">2274.31</div><div class="t num" style="right:587px;top:415.29999999999995px;">1535.99</div><div class="t num" style="left:608px;top:415.29999999999995px;">1535.99</div><div class="t num" style="right:587px;top:441.2px;">797.67</div><div class="t num" style="left:608px;top:441.2px;">797.67</div><div class="t num" style="right:587px;top:467.09999999999997px;">59.35</div><div class="t num" style="left:608px;top:467.09999999999997px;">59.35</div><div class="t num" style="right:587px;top:515.4px;">82.03</div><div class="t num" style="left:608px;top:515.4px;">82.03</div><div class="t num" style="right:587px;top:543.4px;">61.35</div><div class="t num" style="left:608px;top:543.4px;">61.35</div><div class="t num" style="right:587px;top:571.4px;">40.68</div><div class="t num" style="left:608px;top:571.4px;">40.68</div><div class="t num" style="left:608px;top:71.5px;color:#ff8000;font-size:12.3px">98720.00</div><div class="t num" style="left:105.5px;top:294px;color:#ea4f5f;font-weight:bold">80990.00</div><div class="t num" style="left:137.5px;top:352.5px;color:#55b888;font-weight:bold">77700.00</div><div class="t num" style="left:501px;top:43px;color:#ea4f5f;font-weight:bold">99730.00</div><div class="t leg" style="left:91px;top:378px;color:#111;letter-spacing:0.28px">MACD(26,12,9)</div><div class="t leg" style="left:181.5px;top:378px;color:#4a94f0">DIFF:2274.31</div><div class="t leg" style="left:262.5px;top:378px;color:#4cbb7f">DEA:1864.75</div><div class="t leg" style="left:342px;top:378px;color:#3fb0e6;letter-spacing:0.3px">MACD:819.13</div><div class="t leg" style="left:91px;top:503px;color:#111">RSI(14,14,14)</div><div class="t leg" style="left:171px;top:503px;color:#4a94f0">RSI1:76.93</div><div class="t leg" style="left:238.5px;top:503px;color:#4cbb7f">RSI2:76.93</div><div class="t leg" style="left:306.5px;top:503px;color:#3fb0e6">RSI3:76.93</div><div class="t leg" style="left:375px;top:503px;color:#b8b8b8">L20:20.00</div><div class="t leg" style="left:437.5px;top:503px;color:#b8b8b8">L30:30.00</div><div class="t leg" style="left:499.5px;top:503px;color:#b8b8b8">L50:50</div><div class="t date" style="left:94.5px;top:608px;">2025/07</div><div class="t date" style="left:186.5px;top:608px;">2025/08</div><div class="t date" style="left:270.5px;top:608px;">2025/09</div><div class="t date" style="left:358.5px;top:608px;">2025/10</div><div class="t date" style="left:426.5px;top:608px;">2025/11</div><div class="t date" style="left:506.5px;top:608px;">2025/12</div><div class="t cn bl" style="left:33px;top:609px;">日线</div><div class="t wm" style="left:543px;top:572px;">FX678</div>
</body></html>
